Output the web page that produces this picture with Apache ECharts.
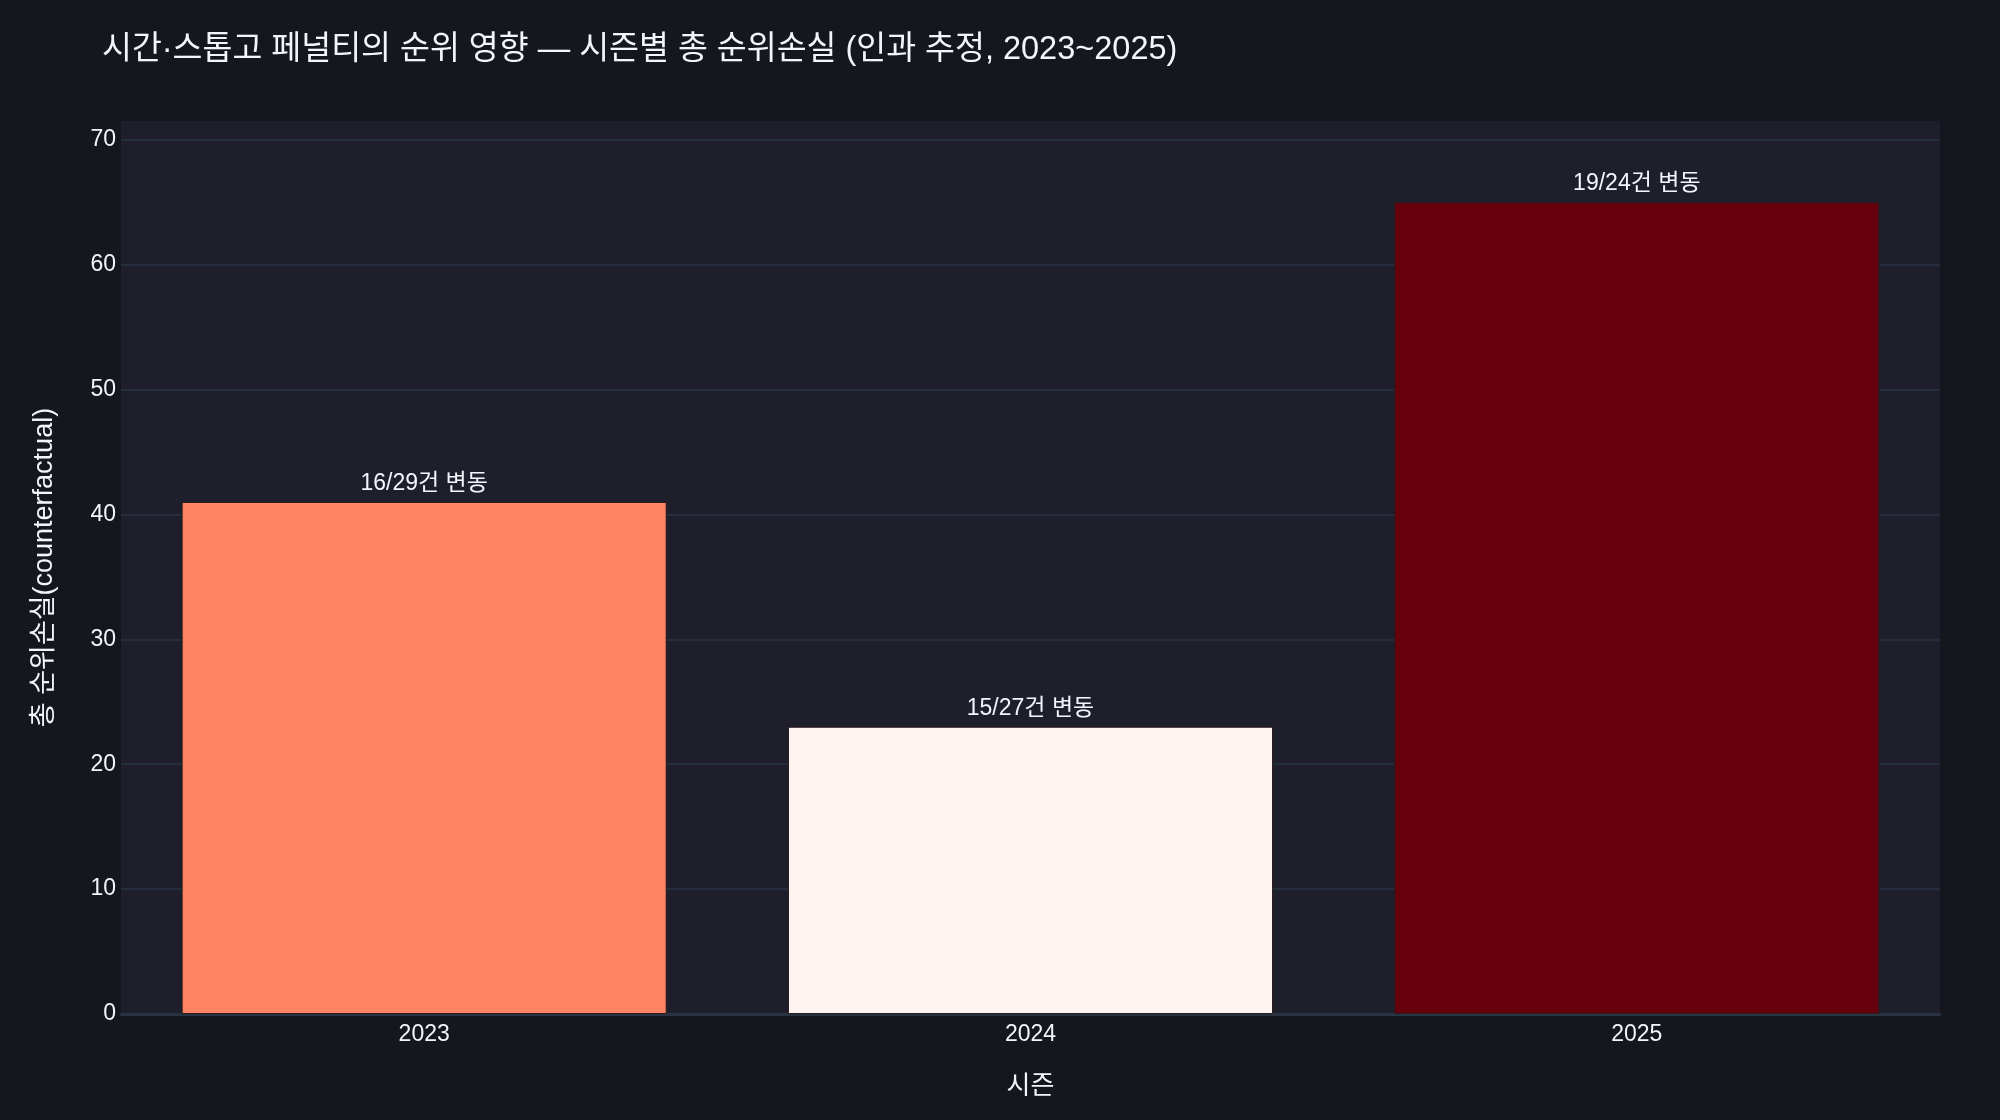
<!DOCTYPE html>
<html><head><meta charset="utf-8">
<script src="https://cdn.jsdelivr.net/npm/echarts@6/dist/echarts.min.js"></script>
<style>html,body{margin:0;padding:0;background:#15161e;}#c{width:2000px;height:1120px;}</style>
</head><body><div id="c"></div>
<script>
const seasons = ['2023', '2024', '2025'];
const totalLoss = [41, 23, 65];
const barLabels = ['16/29건 변동', '15/27건 변동', '19/24건 변동'];
const barColors = ['#fc8462', '#fff5f0', '#67000d'];

const FONT = '"Liberation Sans", Arial, "Noto Sans CJK KR", sans-serif';
const chart = echarts.init(document.getElementById('c'));
chart.setOption({
  backgroundColor: '#15161e',
  animation: false,
  textStyle: { fontFamily: FONT },
  title: {
    text: '시간·스톱고 페널티의 순위 영향 — 시즌별 총 순위손실 (인과 추정, 2023~2025)',
    left: 97, top: 29,
    textStyle: { color: '#f2f5fa', fontSize: 32.5, fontWeight: 'normal', fontFamily: FONT }
  },
  grid: {
    left: 121, right: 60, top: 121, bottom: 106,
    show: true, backgroundColor: '#1f1f2c', borderWidth: 0
  },
  xAxis: {
    type: 'category', data: seasons,
    name: '시즌', nameLocation: 'middle', nameGap: 60,
    nameTextStyle: { color: '#f2f5fa', fontSize: 26, fontFamily: FONT },
    axisLine: { show: true, lineStyle: { color: '#283442', width: 3 } },
    axisTick: { show: false },
    axisLabel: { color: '#f2f5fa', fontSize: 23, margin: 9, fontFamily: FONT }
  },
  yAxis: {
    type: 'value', min: 0, max: 71.5, interval: 10,
    name: '총 순위손실(counterfactual)', nameLocation: 'middle', nameGap: 63,
    nameTextStyle: { color: '#f2f5fa', fontSize: 27, fontFamily: FONT },
    axisLine: { show: false }, axisTick: { show: false },
    axisLabel: { color: '#f2f5fa', fontSize: 23, margin: 5, showMaxLabel: false, fontFamily: FONT,
      formatter: v => (v % 10 === 0 ? String(v) : '') },
    splitLine: { show: true, showMaxLine: false, lineStyle: { color: '#283442', width: 1.5 } }
  },
  series: [{
    type: 'bar',
    barCategoryGap: '20%',
    data: totalLoss.map((v, i) => ({
      value: v,
      itemStyle: { color: barColors[i], borderColor: '#2a1a1e', borderWidth: 1 },
      label: { formatter: barLabels[i] }
    })),
    label: {
      show: true, position: 'top', distance: 7,
      color: '#f2f5fa', fontSize: 23, fontFamily: FONT
    }
  }]
});
</script></body></html>
